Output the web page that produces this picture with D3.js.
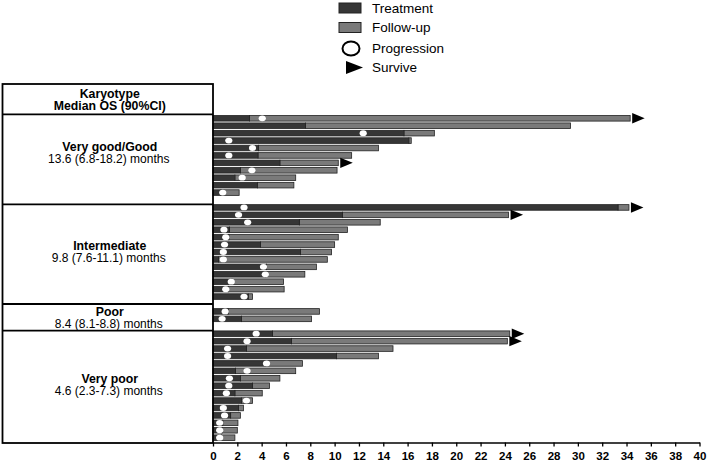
<!DOCTYPE html>
<html><head><meta charset="utf-8">
<script src="https://cdn.jsdelivr.net/npm/d3@7"></script>
<style>
body{margin:0;background:#fff}
svg{display:block;font-family:Arial,"Liberation Sans",sans-serif}
</style>
</head><body>
<svg id="c" width="709" height="462"></svg>
<script>
// ---------- DATA ----------
const groups = ["Very good/Good", "Intermediate", "Poor", "Very poor"];
const groupMedianOS = ["13.6 (6.8-18.2) months", "9.8 (7.6-11.1) months", "8.4 (8.1-8.8) months", "4.6 (2.3-7.3) months"];
const headerLines = ["Karyotype", "Median OS (90%CI)"];
const legendLabels = ["Treatment", "Follow-up", "Progression", "Survive"];

// one entry per patient (top to bottom)
const patientGroup = [
  0,0,0,0,0,0,0,0,0,0,0,
  1,1,1,1,1,1,1,1,1,1,1,1,1,
  2,2,
  3,3,3,3,3,3,3,3,3,3,3,3,3,3,3
];
const treatmentEnd = [
  3.0, 7.6, 15.7, 16.1, 3.75, 3.7, 5.5, 2.25, 1.8, 3.65, 0.65,
  33.3, 10.65, 7.1, 1.35, 1.3, 3.9, 7.2, 0.45, 4.4, 4.3, 1.55, 1.25, 2.9,
  1.25, 2.35,
  4.9, 6.45, 2.75, 10.15, 4.3, 1.85, 2.25, 3.25, 1.8, 2.35, 2.1, 1.45, 0.8, 0.75, 0.7
];
const followUpEnd = [
  34.3, 29.4, 18.2, 16.3, 13.6, 11.4, 10.3, 10.2, 6.8, 6.65, 2.15,
  34.2, 24.3, 13.75, 11.05, 10.3, 10.0, 9.75, 9.4, 8.5, 7.55, 5.8, 5.85, 3.25,
  8.75, 8.1,
  24.4, 24.2, 14.8, 13.6, 7.35, 6.8, 5.5, 4.65, 4.05, 3.25, 2.5, 2.25, 2.05, 2.0, 1.8
];
const progression = [
  4.05, null, 12.35, 1.3, 3.25, 1.3, null, 3.2, 2.4, null, 0.8,
  2.55, 2.1, 2.85, 0.9, 1.05, 0.95, 0.85, 0.85, 4.15, 4.3, 1.5, 1.05, 2.55,
  1.0, 0.75,
  3.55, 2.8, 1.2, 1.2, 4.4, 2.8, 1.35, 1.3, 1.1, 2.75, 0.85, 0.95, 0.55, 0.55, 0.55
];
const survive = [
  true, false, false, false, false, false, true, false, false, false, false,
  true, true, false, false, false, false, false, false, false, false, false, false, false,
  false, false,
  true, true, false, false, false, false, false, false, false, false, false, false, false, false, false
];
const xTicks = [0,2,4,6,8,10,12,14,16,18,20,22,24,26,28,30,32,34,36,38,40];

// ---------- LAYOUT ----------
const C = {
  treat: "#363636", follow: "#7a7a7a", stroke: "#222",
  x0: 213, x1: 699.5, axisY: 442.5,
  rowTop: 118.3, rowBottom: 437.7, barH: 5.6,
  tableLeft: 2.5, tableTop: 84,
  boxEdges: [114.3, 204.3, 304, 330.7, 443], // header bottom + group bottoms
  labelCenters: [153, 252, 318, 385]
};

const svg = d3.select("#c");

// row slots with one empty slot between groups
const slots = [];
patientGroup.forEach((g, i) => {
  if (i > 0 && patientGroup[i - 1] !== g) slots.push("gap" + i);
  slots.push("p" + i);
});
const y = d3.scalePoint().domain(slots).range([C.rowTop, C.rowBottom]);
const x = d3.scaleLinear().domain([0, 40]).range([C.x0, C.x1]);

const patients = patientGroup.map((g, i) => ({
  i, g, t: treatmentEnd[i], f: followUpEnd[i], p: progression[i], s: survive[i]
}));

// ---------- BARS ----------
const rows = svg.append("g").selectAll("g").data(patients).join("g")
  .attr("transform", d => `translate(0,${y("p" + d.i)})`);

rows.append("rect")
  .attr("x", d => x(d.t)).attr("y", -C.barH / 2)
  .attr("width", d => Math.max(0, x(d.f) - x(d.t))).attr("height", C.barH)
  .attr("fill", C.follow).attr("stroke", C.stroke).attr("stroke-width", 0.8);

rows.append("rect")
  .attr("x", x(0)).attr("y", -C.barH / 2)
  .attr("width", d => x(d.t) - x(0)).attr("height", C.barH)
  .attr("fill", C.treat).attr("stroke", C.stroke).attr("stroke-width", 0.8);

rows.filter(d => d.p != null).append("ellipse")
  .attr("cx", d => x(d.p)).attr("cy", 0)
  .attr("rx", 3.6).attr("ry", 2.9)
  .attr("fill", "#fff");

rows.filter(d => d.s).append("path")
  .attr("d", d => {
    const ax = x(d.f) + 2;
    return `M${ax},-5.2L${ax + 12.5},0L${ax},5.2Z`;
  })
  .attr("fill", "#000");

// ---------- X AXIS ----------
const xAxis = d3.axisBottom(x).tickValues(xTicks).tickSize(4).tickSizeOuter(0).tickFormat(d3.format("d"));
const ax = svg.append("g").attr("transform", `translate(0,${C.axisY})`).call(xAxis);
ax.select(".domain").attr("stroke", "#000").attr("stroke-width", 1.6);
ax.selectAll(".tick line").attr("stroke", "#000").attr("stroke-width", 1.3);
ax.selectAll(".tick text").attr("font-size", 11.5).attr("font-weight", "bold")
  .attr("font-family", "Arial, 'Liberation Sans', sans-serif").attr("fill", "#000").attr("dy", "0.9em");

// ---------- TABLE ----------
const tbl = svg.append("g");
const edges = [C.tableTop].concat(C.boxEdges);
tbl.append("rect")
  .attr("x", C.tableLeft).attr("y", C.tableTop)
  .attr("width", C.x0 - C.tableLeft).attr("height", edges[edges.length - 1] - C.tableTop)
  .attr("fill", "none").attr("stroke", "#000").attr("stroke-width", 1.8);
tbl.selectAll("line.h").data(edges.slice(1, -1)).join("line")
  .attr("x1", C.tableLeft).attr("x2", C.x0).attr("y1", d => d).attr("y2", d => d)
  .attr("stroke", "#000").attr("stroke-width", 1.8);

const cx = (C.tableLeft + C.x0) / 2 + 2;
tbl.selectAll("text.hdr").data(headerLines).join("text")
  .attr("x", cx).attr("y", (d, i) => 97.5 + i * 12.5)
  .attr("text-anchor", "middle").attr("font-size", 12.3).attr("font-weight", "bold")
  .text(d => d);

groups.forEach((g, k) => {
  const cy = C.labelCenters[k];
  tbl.append("text").attr("x", cx).attr("y", cy - 2.5)
    .attr("text-anchor", "middle").attr("font-size", 12.3).attr("font-weight", "bold").text(g);
  tbl.append("text").attr("x", cx - 1).attr("y", cy + 10.3)
    .attr("text-anchor", "middle").attr("font-size", 12).text(groupMedianOS[k]);
});

// ---------- LEGEND ----------
const lg = svg.append("g");
const lgY = [8, 27.5, 48.5, 67.5];
lg.append("rect").attr("x", 339).attr("y", lgY[0] - 5).attr("width", 22).attr("height", 10)
  .attr("fill", C.treat).attr("stroke", C.stroke).attr("stroke-width", 1);
lg.append("rect").attr("x", 339).attr("y", lgY[1] - 5).attr("width", 22).attr("height", 10)
  .attr("fill", C.follow).attr("stroke", C.stroke).attr("stroke-width", 1);
lg.append("ellipse").attr("cx", 351).attr("cy", lgY[2]).attr("rx", 8.5).attr("ry", 7)
  .attr("fill", "#fff").attr("stroke", "#000").attr("stroke-width", 2);
lg.append("path").attr("d", `M346,${lgY[3] - 6.5}L363,${lgY[3]}L346,${lgY[3] + 6.5}Z`).attr("fill", "#000");
lg.selectAll("text").data(legendLabels).join("text")
  .attr("x", 372).attr("y", (d, i) => lgY[i] + 4.5)
  .attr("font-size", 13.5).attr("fill", "#000").text(d => d);
</script>
</body></html>
